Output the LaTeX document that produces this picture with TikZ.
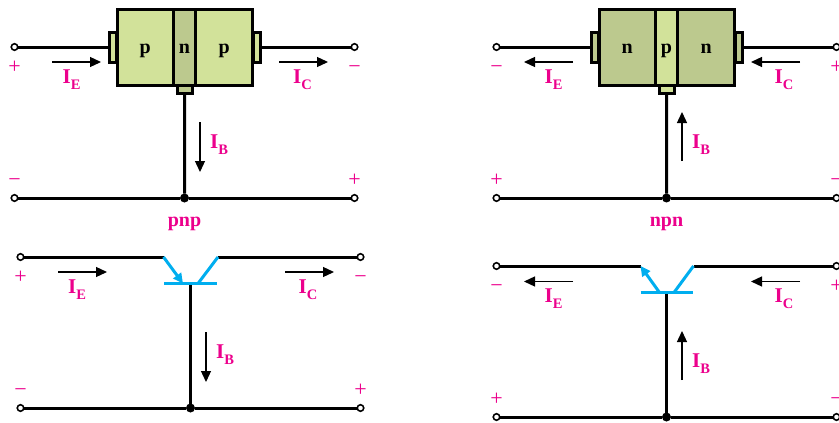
\documentclass[tikz,border=0pt]{standalone}
\usepackage{fontspec}
\setmainfont{Liberation Serif}
\usetikzlibrary {positioning,arrows.meta}
\definecolor{pfill}{HTML}{D2E29A}
\definecolor{nfill}{HTML}{BCC98E}
\definecolor{labelpink}{HTML}{EC008C}
\definecolor{symblue}{HTML}{00AEEF}
\newcommand{\cur}[1]{I\raisebox{-6pt}{\fontsize{14.5}{14.5}\selectfont #1}}

\begin{document}
\begin{tikzpicture}[x=1pt,y=-1pt,on grid,
line width=3pt,
region/.style={rectangle,draw,inner sep=0pt,outer sep=0pt,minimum height=75.4pt,text height=12pt,text depth=0pt,font=\fontsize{20}{20}\selectfont\bfseries},
regionp/.style={region,fill=pfill},
regionn/.style={region,fill=nfill},
contact/.style={rectangle,draw,inner sep=0pt,outer sep=0pt},
side/.style={contact,minimum width=7pt,minimum height=30pt},
foot/.style={contact,minimum width=15pt,minimum height=8pt},
wirepin/.style={circle,draw,fill=white,inner sep=0pt,outer sep=0pt,minimum size=6.5pt,line width=1.6pt},
joint/.style={circle,fill=black,inner sep=0pt,outer sep=0pt,minimum size=9pt},
flow/.style={line width=1.3pt,-{Triangle[length=11pt,width=10pt]}},
symbol/.style={symblue,line width=3pt},
curlabel/.style={text=labelpink,inner sep=0pt,anchor=base,font=\fontsize{21}{21}\selectfont\bfseries},
sign/.style={text=labelpink,inner sep=0pt,text height=14.3pt,text depth=0pt,font=\fontsize{22}{22}\selectfont},
typename/.style={text=labelpink,inner sep=0pt,anchor=base,font=\fontsize{20}{20}\selectfont\bfseries}
]
\useasboundingbox (0,0) rectangle (839,423);

% pnp block
\node[regionn] (Bn1) at (184.5,47.5) [minimum width=22.4pt] {n};
\node[regionp] (Bp1) [left=39.35pt of Bn1,minimum width=56.3pt] {p};
\node[regionp] (Bp2) [right=39.6pt of Bn1,minimum width=56.8pt] {p};
\node[side,fill=pfill] (Ce1) at (113.4,47) {};
\node[side,fill=pfill] (Cc1) at (256.6,47) {};
\node[foot,fill=nfill] (Cb1) at (184.6,89) {};
\node[wirepin] (Te1) at (14.5,47) {};
\node[wirepin] (Tc1) [right=340pt of Te1] {};
\node[wirepin] (Ta1) [below=151pt of Te1] {};
\node[wirepin] (Td1) [right=340pt of Ta1] {};
\node[joint] (J1) at (184.5,198) {};
\draw (Te1) -- (Ce1);
\draw (Cc1) -- (Tc1);
\draw (Cb1) -- (J1);
\draw (Ta1) -- (J1) -- (Td1);

% npn block
\node[regionp] (Bp3) at (666.5,47.5) [minimum width=22.4pt] {p};
\node[regionn] (Bn2) [left=39.35pt of Bp3,minimum width=56.3pt] {n};
\node[regionn] (Bn3) [right=39.6pt of Bp3,minimum width=56.8pt] {n};
\node[side,fill=nfill] (Ce2) at (595.4,47) {};
\node[side,fill=nfill] (Cc2) at (738.6,47) {};
\node[foot,fill=pfill] (Cb2) at (666.6,89) {};
\node[wirepin] (Te2) at (496.5,47) {};
\node[wirepin] (Tc2) [right=340pt of Te2] {};
\node[wirepin] (Ta2) [below=151pt of Te2] {};
\node[wirepin] (Td2) [right=340pt of Ta2] {};
\node[joint] (J2) at (666.5,198) {};
\draw (Te2) -- (Ce2);
\draw (Cc2) -- (Tc2);
\draw (Cb2) -- (J2);
\draw (Ta2) -- (J2) -- (Td2);

% pnp symbol
\node[wirepin] (Te3) at (20.5,257) {};
\node[wirepin] (Tc3) [right=340pt of Te3] {};
\node[wirepin] (Ta3) [below=151pt of Te3] {};
\node[wirepin] (Td3) [right=340pt of Ta3] {};
\node[joint] (J3) at (190.5,408) {};
\coordinate (Se3) at (163.5,257);
\coordinate (Sc3) at (218,257);
\coordinate (Sl3) at (164,283.5);
\coordinate (Sr3) at (217,283.5);
\coordinate (Sm3) at (190.5,283.5);
\coordinate (Sa3) at (183,283.5);
\coordinate (Sb3) at (198,283.5);
\draw (Te3) -- (Se3);
\draw (Sc3) -- (Tc3);
\draw (Sm3) -- (J3);
\draw (Ta3) -- (J3) -- (Td3);
\draw[symbol] (Sl3) -- (Sr3);
\draw[symbol] (Sc3) -- (Sb3);
\draw[symbol,-{Triangle[length=10pt,width=9.5pt]}] (Se3) -- (Sa3);

% npn symbol
\node[wirepin] (Te4) at (496.5,266) {};
\node[wirepin] (Tc4) [right=340pt of Te4] {};
\node[wirepin] (Ta4) [below=151pt of Te4] {};
\node[wirepin] (Td4) [right=340pt of Ta4] {};
\node[joint] (J4) at (666.5,417) {};
\coordinate (Se4) at (640.5,266);
\coordinate (Sc4) at (693.5,266);
\coordinate (Sl4) at (640.5,292.5);
\coordinate (Sr4) at (693,292.5);
\coordinate (Sm4) at (666.5,292.5);
\coordinate (Sa4) at (659.5,292.5);
\coordinate (Sb4) at (674,292.5);
\draw (Te4) -- (Se4);
\draw (Sc4) -- (Tc4);
\draw (Sm4) -- (J4);
\draw (Ta4) -- (J4) -- (Td4);
\draw[symbol] (Sl4) -- (Sr4);
\draw[symbol] (Sc4) -- (Sb4);
\draw[symbol,-{Triangle[length=10pt,width=9.5pt]}] (Sa4) -- (Se4);

% current arrows
\coordinate (A1) at (52,62);
\coordinate (A2) at (101,62);
\coordinate (A3) at (279,62);
\coordinate (A4) at (328,62);
\coordinate (A5) at (200,122);
\coordinate (A6) at (200,172);
\draw[flow] (A1) -- (A2);
\draw[flow] (A3) -- (A4);
\draw[flow] (A5) -- (A6);
\coordinate (B1) at (573,62);
\coordinate (B2) at (524,62);
\coordinate (B3) at (800,62);
\coordinate (B4) at (751,62);
\coordinate (B5) at (682,161);
\coordinate (B6) at (682,112);
\draw[flow] (B1) -- (B2);
\draw[flow] (B3) -- (B4);
\draw[flow] (B5) -- (B6);
\coordinate (C1) at (58,272);
\coordinate (C2) at (107,272);
\coordinate (C3) at (285,272);
\coordinate (C4) at (334,272);
\coordinate (C5) at (206,332);
\coordinate (C6) at (206,382);
\draw[flow] (C1) -- (C2);
\draw[flow] (C3) -- (C4);
\draw[flow] (C5) -- (C6);
\coordinate (D1) at (573,281.5);
\coordinate (D2) at (524,281.5);
\coordinate (D3) at (800,281.5);
\coordinate (D4) at (751,281.5);
\coordinate (D5) at (682,380);
\coordinate (D6) at (682,331);
\draw[flow] (D1) -- (D2);
\draw[flow] (D3) -- (D4);
\draw[flow] (D5) -- (D6);

% current labels
\node[curlabel] (Le1) at (71.5,83) {\cur{E}};
\node[curlabel] (Lc1) at (302.5,83) {\cur{C}};
\node[curlabel] (Lb1) at (219,148) {\cur{B}};
\node[curlabel] (Le2) at (553.5,83) {\cur{E}};
\node[curlabel] (Lc2) at (784,83) {\cur{C}};
\node[curlabel] (Lb2) at (701,148) {\cur{B}};
\node[curlabel] (Le3) at (77,293.5) {\cur{E}};
\node[curlabel] (Lc3) at (308,293.5) {\cur{C}};
\node[curlabel] (Lb3) at (225,358) {\cur{B}};
\node[curlabel] (Le4) at (553.5,302.5) {\cur{E}};
\node[curlabel] (Lc4) at (784,302.5) {\cur{C}};
\node[curlabel] (Lb4) at (701,367) {\cur{B}};

% polarity marks
\node[sign] (S1) at (14.5,66) {+};
\node[sign] (S2) at (354.5,66) {\textminus};
\node[sign] (S3) at (14.5,179) {\textminus};
\node[sign] (S4) at (354.5,179) {+};
\node[sign] (S5) at (496.5,66) {\textminus};
\node[sign] (S6) at (836.5,66) {+};
\node[sign] (S7) at (496.5,179) {+};
\node[sign] (S8) at (836.5,179) {\textminus};
\node[sign] (S9) at (20.5,276) {+};
\node[sign] (S10) at (360.5,276) {\textminus};
\node[sign] (S11) at (20.5,389) {\textminus};
\node[sign] (S12) at (360.5,389) {+};
\node[sign] (S13) at (496.5,285.5) {\textminus};
\node[sign] (S14) at (836.5,285.5) {+};
\node[sign] (S15) at (496.5,398.5) {+};
\node[sign] (S16) at (836.5,398.5) {\textminus};

\node[typename] (N1) at (184.5,226) {pnp};
\node[typename] (N2) at (666.5,226) {npn};
\end{tikzpicture}
\end{document}
